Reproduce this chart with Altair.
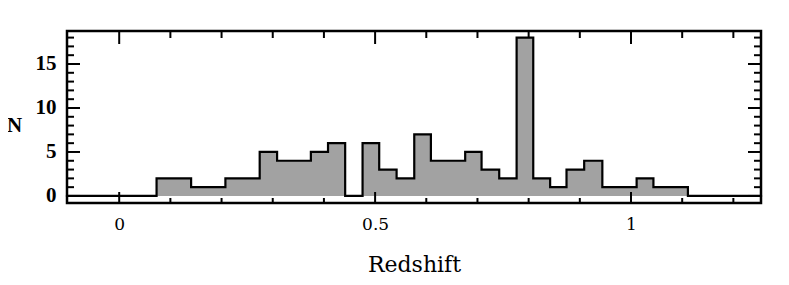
import altair as alt
import pandas as pd

# ---- data ----
bin_edges = [0.073, 0.1065, 0.1405, 0.1735, 0.2075, 0.2405, 0.2745, 0.3085, 0.341,
             0.3745, 0.408, 0.4415, 0.4755, 0.508, 0.542, 0.5765, 0.609, 0.6425,
             0.676, 0.708, 0.7425, 0.7765, 0.809, 0.842, 0.874, 0.9085, 0.944,
             0.9775, 1.011, 1.0438, 1.078, 1.1112]
counts = [2, 2, 1, 1, 2, 2, 5, 4, 4, 5, 6, 0, 6, 3, 2, 7, 4, 4, 5, 3, 2, 18,
          2, 1, 3, 4, 1, 1, 2, 1, 1]

x_domain = [-0.102, 1.254]
y_domain = [-0.8, 18.75]
x_label_values = [0, 0.5, 1]
y_label_values = [0, 5, 10, 15]
x_tick_minor = [0.1, 0.2, 0.3, 0.4, 0.6, 0.7, 0.8, 0.9, 1.1, 1.2]
x_tick_major = [0, 0.5, 1]
y_tick_minor = [1, 2, 3, 4, 6, 7, 8, 9, 11, 12, 13, 14, 16, 17, 18]
y_tick_major = [0, 5, 10, 15]

W, H = 694, 172

area_df = pd.DataFrame({
    "z": bin_edges,
    "n": counts + [0],
    "zero": [0] * len(bin_edges),
})
line_df = pd.DataFrame({
    "z": [x_domain[0]] + bin_edges + [x_domain[1]],
    "n": [0] + counts + [0, 0],
})

xs = alt.Scale(domain=x_domain, nice=False, zero=False)
ys = alt.Scale(domain=y_domain, nice=False, zero=False)

area = alt.Chart(area_df).mark_area(
    interpolate="step-after", color="#a2a2a2", opacity=1
).encode(
    x=alt.X("z:Q", scale=xs,
            axis=alt.Axis(values=x_label_values, format="~g", ticks=False,
                          domain=False, grid=False, labelFont="DejaVu Serif",
                          labelFontSize=17, labelColor="black", labelPadding=13,
                          title="Redshift", titleFont="DejaVu Serif",
                          titleFontSize=22, titleFontWeight="normal",
                          titleColor="black", titleBaseline="alphabetic",
                          titleY=68)),
    y=alt.Y("n:Q", scale=ys,
            axis=alt.Axis(values=y_label_values, ticks=False, domain=False,
                          grid=False, labelFont="Liberation Serif",
                          labelFontWeight="bold", labelFontSize=21,
                          labelColor="black", labelPadding=11,
                          title="N", titleAngle=0, titleFont="Liberation Serif",
                          titleFontWeight="bold", titleFontSize=21,
                          titleColor="black", titleAlign="center",
                          titleBaseline="middle", titleX=-53, titleY=94)),
    y2="zero:Q",
)

outline = alt.Chart(line_df).mark_line(
    interpolate="step-after", color="black", strokeWidth=2.2,
    strokeJoin="miter", strokeCap="square"
).encode(x=alt.X("z:Q", scale=xs), y=alt.Y("n:Q", scale=ys))

xmin_df = pd.DataFrame({"v": x_tick_minor})
xmaj_df = pd.DataFrame({"v": x_tick_major})
ymin_df = pd.DataFrame({"v": y_tick_minor})
ymaj_df = pd.DataFrame({"v": y_tick_major})

def xticks(df, length):
    top = alt.Chart(df).mark_rule(color="black", strokeWidth=2).encode(
        x=alt.X("v:Q", scale=xs), y=alt.value(0), y2=alt.value(length))
    bot = alt.Chart(df).mark_rule(color="black", strokeWidth=2).encode(
        x=alt.X("v:Q", scale=xs), y=alt.value(H), y2=alt.value(H - length + 2))
    return top + bot

def yticks(df, length):
    left = alt.Chart(df).mark_rule(color="black", strokeWidth=2).encode(
        y=alt.Y("v:Q", scale=ys), x=alt.value(0), x2=alt.value(length))
    right = alt.Chart(df).mark_rule(color="black", strokeWidth=2).encode(
        y=alt.Y("v:Q", scale=ys), x=alt.value(W), x2=alt.value(W - length))
    return left + right

chart = alt.layer(
    area, outline,
    xticks(xmin_df, 7), xticks(xmaj_df, 13),
    yticks(ymin_df, 7), yticks(ymaj_df, 13),
).properties(
    width=W, height=H,
    autosize=alt.AutoSizeParams(type="none"),
    padding={"left": 59, "top": 23, "right": 20, "bottom": 74},
).configure(
    background="white"
).configure_view(
    stroke="black", strokeWidth=2.5
)

chart.save("out.html", embed_options={"renderer": "svg", "actions": False})
